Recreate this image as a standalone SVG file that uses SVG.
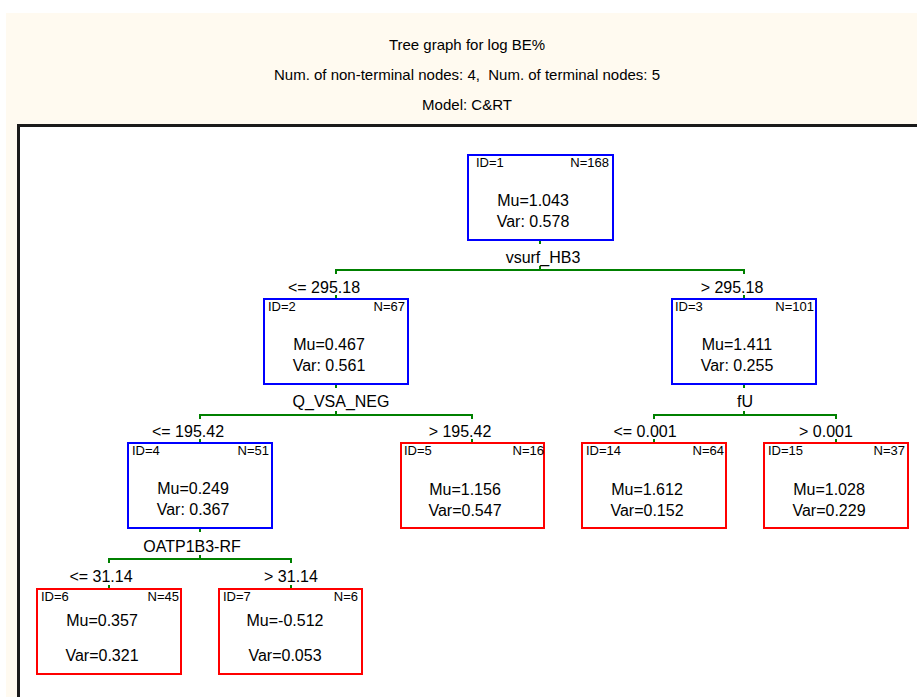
<svg xmlns="http://www.w3.org/2000/svg" width="917" height="697" viewBox="0 0 917 697">
<style>
text{font-family:"Liberation Sans",Arial,sans-serif;fill:#000}
.title{font-size:15px;text-anchor:middle}
.big{font-size:16px;text-anchor:middle}
.id{font-size:13px}
.n{font-size:13px;text-anchor:end}
.inner{fill:none;stroke:#0000FF;stroke-width:2}
.term{fill:none;stroke:#FF0000;stroke-width:2}
.conn line,.conn path{stroke:#008000;stroke-width:2;fill:none}
</style>
<rect x="0" y="0" width="917" height="697" fill="#FFFFFF"/>
<rect x="6" y="13" width="911" height="684" fill="#FFFAF0"/>
<rect x="18.5" y="125.5" width="920" height="600" fill="#FFFFFF" stroke="#1a1a1a" stroke-width="3"/>
<text class="title" x="467" y="50">Tree graph for log BE%</text>
<text class="title" x="467" y="80" xml:space="preserve">Num. of non-terminal nodes: 4,  Num. of terminal nodes: 5</text>
<text class="title" x="467" y="110">Model: C&amp;RT</text>

<g id="connectors" class="conn">
<line x1="540" y1="240" x2="540" y2="244"/>
<line x1="540" y1="266" x2="540" y2="270"/>
<path d="M336,274 V270 H744 V274"/>
<line x1="336" y1="295" x2="336" y2="299"/>
<line x1="744" y1="295" x2="744" y2="299"/>
<line x1="336" y1="384" x2="336" y2="388"/>
<line x1="336" y1="411" x2="336" y2="415"/>
<path d="M200,419 V415 H472 V419"/>
<line x1="200" y1="439" x2="200" y2="443"/>
<line x1="472" y1="439" x2="472" y2="443"/>
<line x1="744" y1="384" x2="744" y2="388"/>
<line x1="744" y1="411" x2="744" y2="415"/>
<path d="M654,419 V415 H836 V419"/>
<line x1="654" y1="439" x2="654" y2="443"/>
<line x1="836" y1="439" x2="836" y2="443"/>
<line x1="200" y1="528" x2="200" y2="532"/>
<line x1="200" y1="555" x2="200" y2="559"/>
<path d="M109,563 V559 H291 V563"/>
<line x1="109" y1="585" x2="109" y2="589"/>
<line x1="291" y1="585" x2="291" y2="589"/>
<text class="big" x="543" y="263">vsurf_HB3</text>
<text class="big" x="341" y="407">Q_VSA_NEG</text>
<text class="big" x="745" y="407">fU</text>
<text class="big" x="192" y="552">OATP1B3-RF</text>
<text class="big" x="324" y="293">&lt;= 295.18</text>
<text class="big" x="732" y="293">&gt; 295.18</text>
<text class="big" x="188" y="437">&lt;= 195.42</text>
<text class="big" x="460" y="437">&gt; 195.42</text>
<text class="big" x="645" y="437">&lt;= 0.001</text>
<text class="big" x="826" y="437">&gt; 0.001</text>
<text class="big" x="101" y="582">&lt;= 31.14</text>
<text class="big" x="291" y="582">&gt; 31.14</text>
</g>

<g id="node1">
<rect class="inner" x="468" y="155" width="145" height="85"/>
<text class="id" x="476" y="167">ID=1</text>
<text class="n" x="609" y="167">N=168</text>
<text class="big" x="533" y="206">Mu=1.043</text>
<text class="big" x="533" y="227">Var: 0.578</text>
</g>
<g id="node2">
<rect class="inner" x="264" y="299" width="144" height="85"/>
<text class="id" x="268" y="311">ID=2</text>
<text class="n" x="405" y="311">N=67</text>
<text class="big" x="329" y="350">Mu=0.467</text>
<text class="big" x="329" y="371">Var: 0.561</text>
</g>
<g id="node3">
<rect class="inner" x="672" y="299" width="144" height="85"/>
<text class="id" x="675" y="311">ID=3</text>
<text class="n" x="814" y="311">N=101</text>
<text class="big" x="737" y="350">Mu=1.411</text>
<text class="big" x="737" y="371">Var: 0.255</text>
</g>
<g id="node4">
<rect class="inner" x="128" y="443" width="144" height="85"/>
<text class="id" x="132" y="455">ID=4</text>
<text class="n" x="269" y="455">N=51</text>
<text class="big" x="193" y="494">Mu=0.249</text>
<text class="big" x="193" y="515">Var: 0.367</text>
</g>
<g id="node5">
<rect class="term" x="401" y="443" width="143" height="85"/>
<text class="id" x="404" y="455">ID=5</text>
<text class="n" x="544" y="455">N=16</text>
<text class="big" x="465" y="495">Mu=1.156</text>
<text class="big" x="465" y="516">Var=0.547</text>
</g>
<g id="node14">
<rect class="term" x="582" y="443" width="144" height="85"/>
<text class="id" x="586" y="455">ID=14</text>
<text class="n" x="724" y="455">N=64</text>
<text class="big" x="647" y="495">Mu=1.612</text>
<text class="big" x="647" y="516">Var=0.152</text>
</g>
<g id="node15">
<rect class="term" x="764" y="443" width="144" height="85"/>
<text class="id" x="768" y="455">ID=15</text>
<text class="n" x="905" y="455">N=37</text>
<text class="big" x="829" y="495">Mu=1.028</text>
<text class="big" x="829" y="516">Var=0.229</text>
</g>
<g id="node6">
<rect class="term" x="37" y="589" width="144" height="85"/>
<text class="id" x="41" y="601">ID=6</text>
<text class="n" x="179" y="601">N=45</text>
<text class="big" x="102" y="626">Mu=0.357</text>
<text class="big" x="102" y="661">Var=0.321</text>
</g>
<g id="node7">
<rect class="term" x="219" y="589" width="143" height="85"/>
<text class="id" x="223" y="601">ID=7</text>
<text class="n" x="358" y="601">N=6</text>
<text class="big" x="285" y="626">Mu=-0.512</text>
<text class="big" x="285" y="661">Var=0.053</text>
</g>
</svg>
